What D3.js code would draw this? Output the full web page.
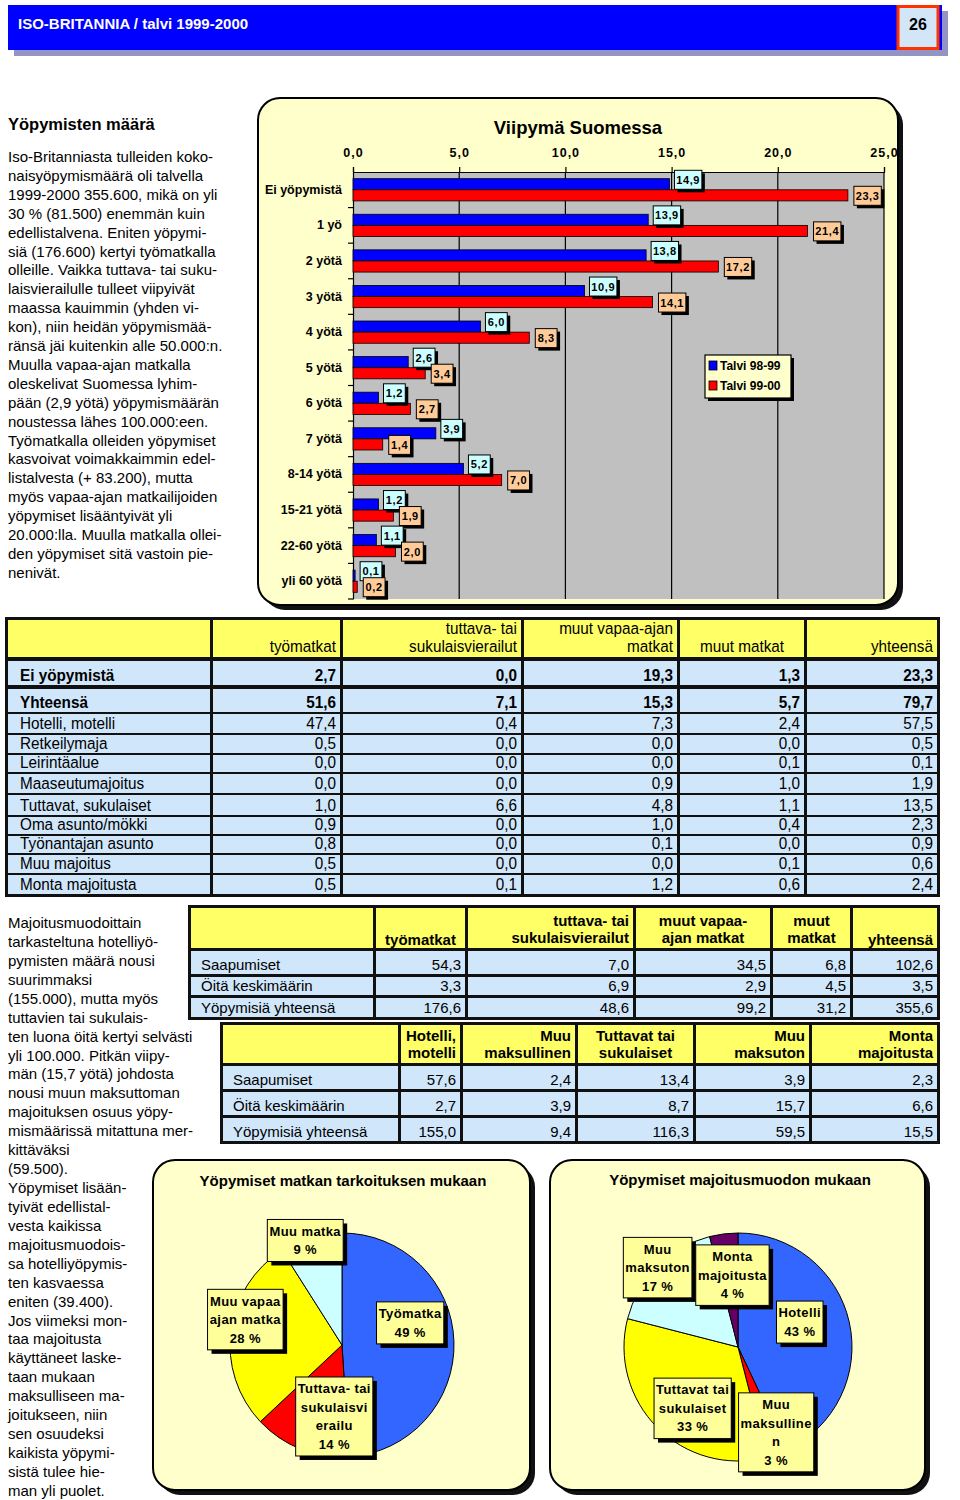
<!DOCTYPE html>
<html>
<head>
<meta charset="utf-8">
<script src="https://cdn.jsdelivr.net/npm/d3@7"></script>
<style>
  body { margin: 0; background: #fff; }
  text { font-family: "Liberation Sans", Arial, sans-serif; }
</style>
</head>
<body>
<svg id="page" width="960" height="1500"></svg>
<script>
// ---- data ----
var stayCats = ["Ei yöpymistä", "1 yö", "2 yötä", "3 yötä", "4 yötä", "5 yötä", "6 yötä",
  "7 yötä", "8-14 yötä", "15-21 yötä", "22-60 yötä", "yli 60 yötä"];
var seriesNames = ["Talvi 98-99", "Talvi 99-00"];
var winter9899 = [14.9, 13.9, 13.8, 10.9, 6.0, 2.6, 1.2, 3.9, 5.2, 1.2, 1.1, 0.1];
var winter9900 = [23.3, 21.4, 17.2, 14.1, 8.3, 3.4, 2.7, 1.4, 7.0, 1.9, 2.0, 0.2];
var xTicks = [0, 5, 10, 15, 20, 25];

var purposeCols = ["työmatkat", "tuttava- tai|sukulaisvierailut", "muut vapaa-ajan|matkat", "muut matkat", "yhteensä"];
var lodgingRows = ["Ei yöpymistä", "Yhteensä", "Hotelli, motelli", "Retkeilymaja", "Leirintäalue",
  "Maaseutumajoitus", "Tuttavat, sukulaiset", "Oma asunto/mökki", "Työnantajan asunto",
  "Muu majoitus", "Monta majoitusta"];
var lodgingValues = [
  [2.7, 0.0, 19.3, 1.3, 23.3],
  [51.6, 7.1, 15.3, 5.7, 79.7],
  [47.4, 0.4, 7.3, 2.4, 57.5],
  [0.5, 0.0, 0.0, 0.0, 0.5],
  [0.0, 0.0, 0.0, 0.1, 0.1],
  [0.0, 0.0, 0.9, 1.0, 1.9],
  [1.0, 6.6, 4.8, 1.1, 13.5],
  [0.9, 0.0, 1.0, 0.4, 2.3],
  [0.8, 0.0, 0.1, 0.0, 0.9],
  [0.5, 0.0, 0.0, 0.1, 0.6],
  [0.5, 0.1, 1.2, 0.6, 2.4]
];

var tripCols = ["työmatkat", "tuttava- tai|sukulaisvierailut", "muut vapaa-|ajan matkat", "muut|matkat", "yhteensä"];
var statRows = ["Saapumiset", "Öitä keskimäärin", "Yöpymisiä yhteensä"];
var tripValues = [
  [54.3, 7.0, 34.5, 6.8, 102.6],
  [3.3, 6.9, 2.9, 4.5, 3.5],
  [176.6, 48.6, 99.2, 31.2, 355.6]
];
var lodgeCols = ["Hotelli,|motelli", "Muu|maksullinen", "Tuttavat tai|sukulaiset", "Muu|maksuton", "Monta|majoitusta"];
var lodgeValues = [
  [57.6, 2.4, 13.4, 3.9, 2.3],
  [2.7, 3.9, 8.7, 15.7, 6.6],
  [155.0, 9.4, 116.3, 59.5, 15.5]
];

var purposePie = [49, 14, 28, 9];
var purposeLabels = [["Työmatka"], ["Tuttava- tai", "sukulaisvi", "erailu"], ["Muu vapaa", "ajan matka"], ["Muu matka"]];
var lodgePie = [43, 3, 33, 17, 4];
var lodgeLabels = [["Hotelli"], ["Muu", "maksulline", "n"], ["Tuttavat tai", "sukulaiset"], ["Muu", "maksuton"], ["Monta", "majoitusta"]];

var introText = ["Iso-Britanniasta tulleiden koko-", "naisyöpymismäärä oli talvella",
  "1999-2000 355.600, mikä on yli", "30 % (81.500) enemmän kuin", "edellistalvena.  Eniten yöpymi-",
  "siä (176.600) kertyi työmatkalla", "olleille. Vaikka tuttava- tai suku-", "laisvierailulle tulleet viipyivät",
  "maassa kauimmin (yhden vi-", "kon), niin heidän yöpymismää-", "ränsä jäi kuitenkin alle 50.000:n.",
  "Muulla vapaa-ajan matkalla", "oleskelivat Suomessa lyhim-", "pään (2,9 yötä) yöpymismäärän",
  "noustessa lähes 100.000:een.", "Työmatkalla olleiden yöpymiset", "kasvoivat voimakkaimmin edel-",
  "listalvesta (+ 83.200), mutta", "myös vapaa-ajan matkailijoiden", "yöpymiset lisääntyivät yli",
  "20.000:lla. Muulla matkalla ollei-", "den yöpymiset sitä vastoin pie-", "nenivät."];
var lodgeText = ["Majoitusmuodoittain", "tarkasteltuna hotelliyö-", "pymisten määrä nousi", "suurimmaksi",
  "(155.000), mutta myös", "tuttavien tai sukulais-", "ten luona öitä kertyi selvästi",
  "yli 100.000. Pitkän viipy-", "män (15,7 yötä) johdosta", "nousi muun maksuttoman",
  "majoituksen osuus yöpy-", "mismäärissä mitattuna mer-", "kittäväksi", "(59.500).",
  "Yöpymiset lisään-", "tyivät edellistal-", "vesta kaikissa", "majoitusmuodois-", "sa hotelliyöpymis-",
  "ten kasvaessa", "eniten (39.400).", "Jos viimeksi mon-", "taa majoitusta", "käyttäneet laske-",
  "taan mukaan", "maksulliseen ma-", "joitukseen, niin", "sen osuudeksi", "kaikista yöpymi-",
  "sistä tulee hie-", "man yli puolet."];

// ---- helpers ----
var fmt = d3.formatLocale({decimal: ",", thousands: ".", grouping: [3], currency: ["", ""]}).format(".1f");
var svg = d3.select("#page");

function panel(x, y, w, h) {
  svg.append("rect").attr("x", x + 5).attr("y", y + 5).attr("width", w).attr("height", h)
    .attr("rx", 22).attr("fill", "#111");
  svg.append("rect").attr("x", x).attr("y", y).attr("width", w).attr("height", h)
    .attr("rx", 22).attr("fill", "#FFFFCC").attr("stroke", "#000").attr("stroke-width", 2);
}

// header band
svg.append("rect").attr("x", 14).attr("y", 11).attr("width", 934).attr("height", 45).attr("fill", "#9494c4");
svg.append("rect").attr("x", 8).attr("y", 5).attr("width", 934).attr("height", 45).attr("fill", "#0000FF");
svg.append("text").attr("x", 18).attr("y", 29).attr("fill", "#fff")
  .style("font-weight", "bold").style("font-size", "15px").text("ISO-BRITANNIA / talvi 1999-2000");
svg.append("rect").attr("x", 898).attr("y", 6.5).attr("width", 40).attr("height", 42)
  .attr("fill", "#D2E6F8").attr("stroke", "#FF3300").attr("stroke-width", 3);
svg.append("text").attr("x", 918).attr("y", 30).attr("text-anchor", "middle")
  .style("font-weight", "bold").style("font-size", "16px").text("26");

// left text columns
svg.append("text").attr("x", 8).attr("y", 130).style("font-weight", "bold").style("font-size", "16.5px")
  .text("Yöpymisten määrä");
svg.append("g").selectAll("text").data(introText).enter().append("text")
  .attr("x", 8).attr("y", (d, i) => 162 + i * 18.9).style("font-size", "15px").text(d => d);
svg.append("g").selectAll("text").data(lodgeText).enter().append("text")
  .attr("x", 8).attr("y", (d, i) => 928 + i * 18.93).style("font-size", "15px").text(d => d);

// ---- bar chart ----
panel(258, 98, 640, 507);
svg.append("text").attr("x", 578).attr("y", 134).attr("text-anchor", "middle")
  .style("font-weight", "bold").style("font-size", "18.5px").text("Viipymä Suomessa");

var x = d3.scaleLinear().domain([0, 25]).range([353, 884]);
var y = d3.scaleBand().domain(stayCats).range([172, 599]);
var sub = d3.scaleBand().domain(seriesNames).range([0, y.bandwidth()]).paddingOuter(0.6);
var barColors = ["#0000FF", "#FF0000"];
var boxColors = ["#CCFFFF", "#FFCC99"];

svg.append("rect").attr("x", x(0)).attr("y", 172).attr("width", x(25) - x(0)).attr("height", 599 - 172)
  .attr("fill", "#C0C0C0");
svg.append("g").selectAll("line").data(xTicks.slice(1)).enter().append("line")
  .attr("x1", d => x(d)).attr("x2", d => x(d)).attr("y1", 172).attr("y2", 599)
  .attr("stroke", "#000").attr("stroke-width", 1.2);

var topAxis = svg.append("g").attr("transform", "translate(0,172)")
  .call(d3.axisTop(x).tickValues(xTicks).tickFormat(fmt).tickSize(5).tickPadding(10));
topAxis.selectAll("text").style("font-weight", "bold").style("font-size", "12.5px")
  .style("letter-spacing", "1px").attr("font-family", null);
topAxis.selectAll("path,line").attr("stroke", "#000").attr("stroke-width", 1.2);

var leftAxis = svg.append("g").attr("transform", "translate(" + x(0) + ",0)")
  .call(d3.axisLeft(y).tickSize(0).tickPadding(11));
leftAxis.selectAll("text").style("font-weight", "bold").style("font-size", "12.5px").attr("font-family", null);
leftAxis.select("path").attr("stroke", "#000").attr("stroke-width", 1.2);
svg.append("g").selectAll("line").data(stayCats).enter().append("line")
  .attr("x1", x(0) - 5).attr("x2", x(0)).attr("y1", d => y(d) + y.step()).attr("y2", d => y(d) + y.step())
  .attr("stroke", "#000").attr("stroke-width", 1.2);

var series = [winter9899, winter9900];
var barData = [];
stayCats.forEach(function(c, i) {
  series.forEach(function(s, k) { barData.push({cat: c, k: k, v: s[i]}); });
});

svg.append("g").selectAll("rect").data(barData).enter().append("rect")
  .attr("x", x(0))
  .attr("y", d => y(d.cat) + sub(seriesNames[d.k]))
  .attr("width", d => x(d.v) - x(0))
  .attr("height", sub.bandwidth())
  .attr("fill", d => barColors[d.k])
  .attr("stroke", "#000").attr("stroke-width", 0.8);

// data labels
var labelShift = [{dx: 5, dy: -10}, {dx: 6, dy: 6}];
var lab = svg.append("g").selectAll("g").data(barData).enter().append("g")
  .attr("transform", d => "translate(" + (x(d.v) + labelShift[d.k].dx) + "," +
    (y(d.cat) + y.bandwidth() / 2 + labelShift[d.k].dy) + ")");
lab.each(function(d) {
  var g = d3.select(this);
  var t = fmt(d.v);
  var w = t.length * 5.6 + 5;
  g.append("rect").attr("x", 3).attr("y", -9.5 + 3).attr("width", w).attr("height", 19).attr("fill", "#000");
  g.append("rect").attr("x", 0).attr("y", -9.5).attr("width", w).attr("height", 19)
    .attr("fill", boxColors[d.k]).attr("stroke", "#000").attr("stroke-width", 1);
  g.append("text").attr("x", w / 2).attr("y", 4).attr("text-anchor", "middle")
    .style("font-weight", "bold").style("font-size", "11px").style("letter-spacing", "0.6px").text(t);
});

// legend
var lg = svg.append("g").attr("transform", "translate(705,355)");
lg.append("rect").attr("x", 3).attr("y", 3).attr("width", 86).attr("height", 43).attr("fill", "#000");
lg.append("rect").attr("width", 86).attr("height", 43).attr("fill", "#FFFFCC").attr("stroke", "#000").attr("stroke-width", 1.2);
seriesNames.forEach(function(n, k) {
  lg.append("rect").attr("x", 4).attr("y", 6 + k * 20).attr("width", 8).attr("height", 9)
    .attr("fill", barColors[k]).attr("stroke", "#000").attr("stroke-width", 0.8);
  lg.append("text").attr("x", 15).attr("y", 15 + k * 20)
    .style("font-weight", "bold").style("font-size", "12px").text(n);
});

// ---- tables ----
// narrow tables squeeze the regular face horizontally (no condensed font installed)
function cellText(g, tx, ty, anchor, size, bold, squeeze, str) {
  return g.append("text")
    .attr("transform", "translate(" + tx + "," + ty + ") scale(" + squeeze + ",1)")
    .attr("text-anchor", anchor)
    .style("font-size", size + "px").style("font-weight", bold ? "bold" : "normal").text(str);
}

function drawTable(t) {
  var g = svg.append("g");
  g.append("rect").attr("x", t.outer[0]).attr("y", t.outer[1])
    .attr("width", t.outer[2] - t.outer[0]).attr("height", t.outer[3] - t.outer[1]).attr("fill", "#111");
  var fs = t.fontSize;
  t.cols.forEach(function(c, ci) {
    g.append("rect").attr("x", c[0]).attr("y", t.head[0]).attr("width", c[1] - c[0])
      .attr("height", t.head[1] - t.head[0]).attr("fill", "#FFFF66");
    if (ci === 0) return;
    var lines = t.headers[ci - 1].split("|");
    var al = t.headAlign[ci - 1];
    var tx = al === "end" ? c[1] - 4 : (al === "middle" ? (c[0] + c[1]) / 2 : c[0] + 4);
    lines.forEach(function(l, li) {
      var ty = t.head[1] - 5 - (lines.length - 1 - li) * t.headLine - (lines.length === 1 ? t.singleDrop : 0);
      cellText(g, tx, ty, al, fs, t.headBold, t.squeeze, l);
    });
  });
  t.rows.forEach(function(r, ri) {
    var ry = t.rowY[ri];
    var bold = t.boldRows && t.boldRows.indexOf(ri) >= 0;
    t.cols.forEach(function(c, ci) {
      g.append("rect").attr("x", c[0]).attr("y", ry[0]).attr("width", c[1] - c[0])
        .attr("height", ry[1] - ry[0]).attr("fill", "#D0E6FA");
      cellText(g, ci === 0 ? c[0] + t.pad : c[1] - 4, ry[1] - 4, ci === 0 ? "start" : "end",
        fs, bold, t.squeeze, ci === 0 ? r : fmt(t.values[ri][ci - 1]));
    });
  });
}

function rowSpans(start, heights, gaps) {
  var out = [], yy = start;
  heights.forEach(function(h, i) { out.push([yy, yy + h]); yy += h + (gaps[i] || 2); });
  return out;
}

drawTable({
  outer: [5, 617, 940, 897], head: [620, 657], squeeze: 0.9, fontSize: 17, headBold: false,
  headLine: 18, singleDrop: 0, pad: 12,
  cols: [[8, 210], [213, 340], [343, 521], [524, 677], [680, 804], [807, 937]],
  headers: purposeCols, headAlign: ["end", "end", "end", "middle", "end"],
  rows: lodgingRows, values: lodgingValues, boldRows: [0, 1],
  rowY: rowSpans(661, [24, 23, 19, 18, 17, 19, 20, 17, 17, 18, 19], [4])
});

drawTable({
  outer: [188, 905, 940, 1020], head: [908, 948], squeeze: 1, fontSize: 15, headBold: true,
  headLine: 17, singleDrop: -2, pad: 10,
  cols: [[191, 373], [376, 465], [468, 633], [636, 770], [773, 850], [853, 937]],
  headers: tripCols, headAlign: ["middle", "end", "middle", "middle", "end"],
  rows: statRows, values: tripValues,
  rowY: rowSpans(951, [23, 18, 19], [3, 3])
});

drawTable({
  outer: [220, 1022, 940, 1144], head: [1025, 1063], squeeze: 1, fontSize: 15, headBold: true,
  headLine: 17, singleDrop: 0, pad: 10,
  cols: [[223, 398], [401, 460], [463, 575], [578, 693], [696, 809], [812, 937]],
  headers: lodgeCols, headAlign: ["end", "end", "middle", "end", "end"],
  rows: statRows, values: lodgeValues,
  rowY: rowSpans(1066, [23, 23, 23], [3, 3])
});

// ---- pies ----
function drawPie(cx, cy, r, values, labels, colors, nudges) {
  var arcs = d3.pie().sort(null).value(d => d)(values);
  var arc = d3.arc().innerRadius(0).outerRadius(r);
  var labArc = d3.arc().innerRadius(r * 0.6).outerRadius(r * 0.6);
  var g = svg.append("g").attr("transform", "translate(" + cx + "," + cy + ")");
  g.selectAll("path").data(arcs).enter().append("path")
    .attr("d", arc).attr("fill", (d, i) => colors[i]).attr("stroke", "#000").attr("stroke-width", 1);
  arcs.forEach(function(a, i) {
    var c = labArc.centroid(a);
    var lines = labels[i].concat([values[i] + " %"]);
    var lg = g.append("g").attr("transform", "translate(" + (c[0] + nudges[i][0]) + "," + (c[1] + nudges[i][1]) + ")");
    var txt = lg.append("text").attr("text-anchor", "middle")
      .style("font-weight", "bold").style("font-size", "13px").style("letter-spacing", "0.4px");
    lines.forEach(function(l, li) {
      txt.append("tspan").attr("x", 0).attr("y", (li - (lines.length - 1) / 2) * 18.5 + 4.5).text(l);
    });
    var bb = txt.node().getBBox();
    var w = bb.width + 4, h = lines.length * 18.5 + 5;
    lg.insert("rect", "text").attr("x", -w / 2 + 4).attr("y", -h / 2 + 4).attr("width", w).attr("height", h).attr("fill", "#000");
    lg.insert("rect", "text").attr("x", -w / 2).attr("y", -h / 2).attr("width", w).attr("height", h)
      .attr("fill", "#FFFF99").attr("stroke", "#000").attr("stroke-width", 1);
  });
}

panel(153, 1160, 377, 330);
svg.append("text").attr("x", 343).attr("y", 1186).attr("text-anchor", "middle")
  .style("font-weight", "bold").style("font-size", "15px").text("Yöpymiset matkan tarkoituksen mukaan");
drawPie(342, 1345, 112, purposePie, purposeLabels, ["#3366FF", "#FF0000", "#FFFF00", "#CCFFFF"],
  [[1, -20], [17, 9], [-30, -17], [-18, -40]]);

panel(550, 1160, 375, 330);
svg.append("text").attr("x", 740).attr("y", 1185).attr("text-anchor", "middle")
  .style("font-weight", "bold").style("font-size", "15px").text("Yöpymiset majoitusmuodon mukaan");
drawPie(738, 1347, 114, lodgePie, lodgeLabels, ["#3366FF", "#FF0000", "#FFFF00", "#CCFFFF", "#660066"],
  [[-5, -10], [15, 21], [3, 13], [-32, -31], [3, -4]]);
</script>
</body>
</html>
